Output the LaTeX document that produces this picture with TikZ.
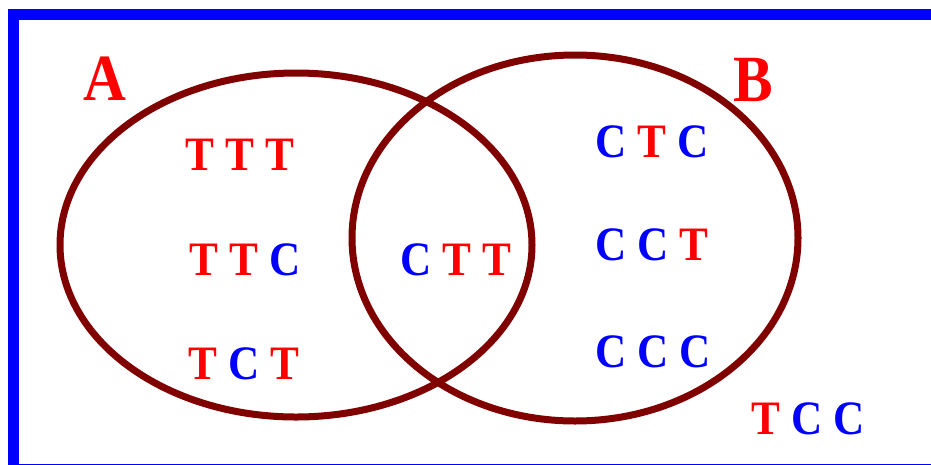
\documentclass[tikz,border=0pt]{standalone}
\usepackage{fontspec}
\newfontfamily\lbl[FakeStretch=0.9]{Liberation Serif}
\definecolor{ered}{RGB}{128,0,0}
\newcommand{\Tr}{\textcolor{red}{T}}
\newcommand{\Cb}{\textcolor{blue}{C}}
\begin{document}
\begin{tikzpicture}[x=1pt,y=-1pt,
  seq/.style={inner sep=0pt,font=\lbl\fontsize{48}{48}\selectfont\bfseries},
  setlabel/.style={inner sep=0pt,text=red,font=\lbl\fontsize{66}{66}\selectfont\bfseries},
  setring/.style={draw=ered,line width=7pt},
  frame/.style={draw=blue,line width=11pt}]
\useasboundingbox (0,0) rectangle (931,464);
\clip (0,0) rectangle (931,464);
\draw[frame] (13.5,14.5) rectangle (945,469.5);
\draw[setring] (296,245) ellipse [x radius=236, y radius=172];
\draw[setring] (575,238) ellipse [x radius=223, y radius=183];
\node[setlabel] (A) at (105,79) {A};
\node[setlabel] (B) at (753,80) {B};
\node[seq] (ttt) at (240,155) {\Tr\ \Tr\ \Tr};
\node[seq] (ttc) at (245,260) {\Tr\ \Tr\ \Cb};
\node[seq] (tct) at (244,364) {\Tr\ \Cb\ \Tr};
\node[seq] (ctt) at (456,260) {\Cb\ \Tr\ \Tr};
\node[seq] (ctc) at (652,142) {\Cb\ \Tr\ \Cb};
\node[seq] (cct) at (652,245) {\Cb\ \Cb\ \Tr};
\node[seq] (ccc) at (653,352) {\Cb\ \Cb\ \Cb};
\node[seq] (tcc) at (808,419) {\Tr\ \Cb\ \Cb};
\end{tikzpicture}
\end{document}
